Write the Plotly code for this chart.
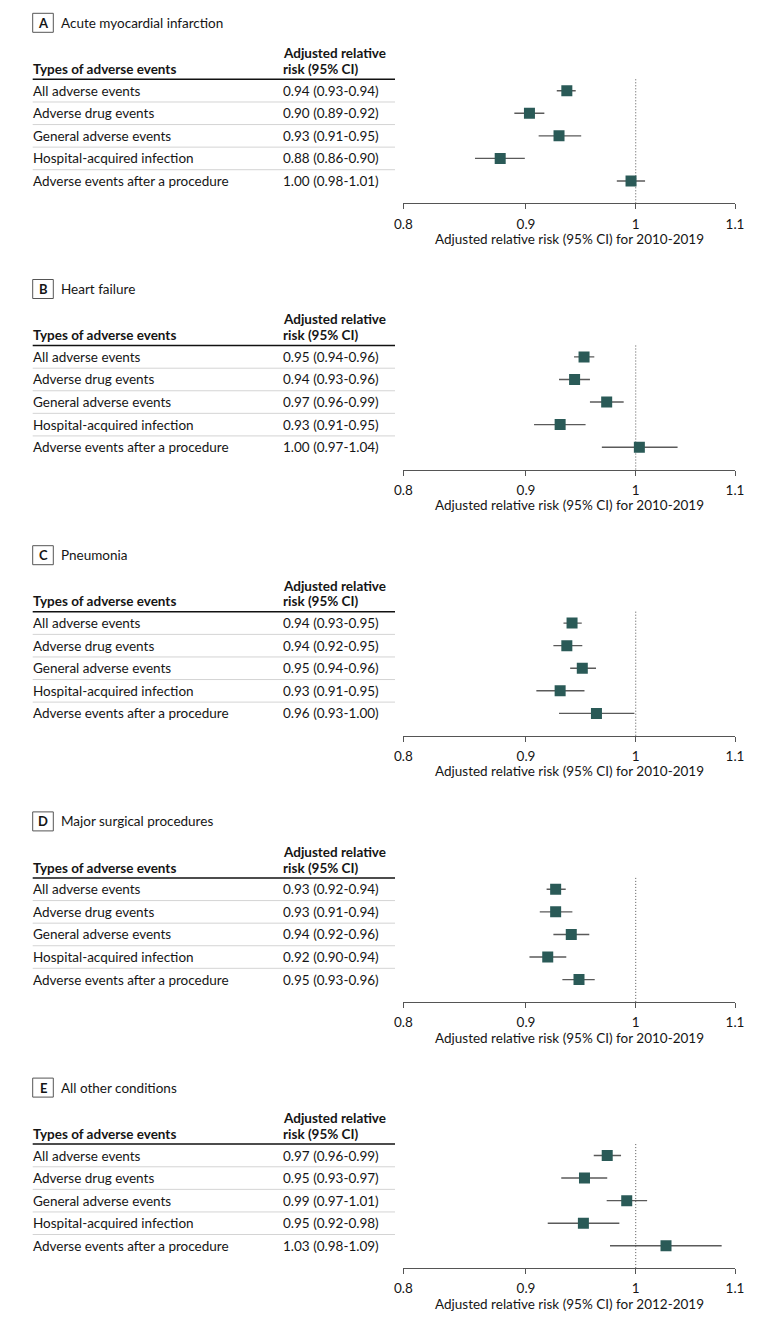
import math
import plotly.graph_objects as go

W, H = 780, 1324

panel_letters = ["A", "B", "C", "D", "E"]
panel_titles = ["Acute myocardial infarction", "Heart failure", "Pneumonia",
                "Major surgical procedures", "All other conditions"]
periods = ["2010-2019", "2010-2019", "2010-2019", "2010-2019", "2012-2019"]

event_types = ["All adverse events", "Adverse drug events", "General adverse events",
               "Hospital-acquired infection", "Adverse events after a procedure"]

# point estimates
est_A = [0.936, 0.903, 0.929, 0.878, 0.9955]
est_B = [0.9516, 0.943, 0.9725, 0.930, 1.0035]
est_C = [0.9407, 0.936, 0.950, 0.930, 0.963]
est_D = [0.926, 0.926, 0.940, 0.919, 0.947]
est_E = [0.973, 0.952, 0.9914, 0.951, 1.0295]

lo_A = [0.927, 0.890, 0.911, 0.857, 0.982]
lo_B = [0.9425, 0.929, 0.957, 0.907, 0.968]
lo_C = [0.933, 0.924, 0.939, 0.909, 0.929]
lo_D = [0.918, 0.912, 0.924, 0.903, 0.932]
lo_E = [0.9605, 0.931, 0.9725, 0.919, 0.9756]

hi_A = [0.944, 0.916, 0.949, 0.899, 1.009]
hi_B = [0.961, 0.957, 0.9885, 0.953, 1.041]
hi_C = [0.9495, 0.950, 0.9626, 0.952, 0.9987]
hi_D = [0.935, 0.941, 0.9564, 0.9355, 0.9614]
hi_E = [0.986, 0.973, 1.011, 0.9844, 1.086]

labels_A = ["0.94 (0.93-0.94)", "0.90 (0.89-0.92)", "0.93 (0.91-0.95)", "0.88 (0.86-0.90)", "1.00 (0.98-1.01)"]
labels_B = ["0.95 (0.94-0.96)", "0.94 (0.93-0.96)", "0.97 (0.96-0.99)", "0.93 (0.91-0.95)", "1.00 (0.97-1.04)"]
labels_C = ["0.94 (0.93-0.95)", "0.94 (0.92-0.95)", "0.95 (0.94-0.96)", "0.93 (0.91-0.95)", "0.96 (0.93-1.00)"]
labels_D = ["0.93 (0.92-0.94)", "0.93 (0.91-0.94)", "0.94 (0.92-0.96)", "0.92 (0.90-0.94)", "0.95 (0.93-0.96)"]
labels_E = ["0.97 (0.96-0.99)", "0.95 (0.93-0.97)", "0.99 (0.97-1.01)", "0.95 (0.92-0.98)", "1.03 (0.98-1.09)"]

tick_vals = [0.8, 0.9, 1.0, 1.1]
tick_text = ["0.8", "0.9", "1", "1.1"]

ests = [est_A, est_B, est_C, est_D, est_E]
los = [lo_A, lo_B, lo_C, lo_D, lo_E]
his = [hi_A, hi_B, hi_C, hi_D, hi_E]
labels = [labels_A, labels_B, labels_C, labels_D, labels_E]

FONT = "Lato"
FS = 13.5
TXT = "#151515"
MARK = "#2a5a57"
ERR = "#5a5a5a"

def py(y):
    return 1 - y / H

def px(x):
    return x / W

PITCH = 266.2
X0, X1 = 403.3, 735.0
PAD = 2  # annotation inner padding

fig = go.Figure()
annotations = []
shapes = []

for k in range(5):
    off = k * PITCH
    sfx = "" if k == 0 else str(k + 1)
    xa, ya = "x" + sfx, "y" + sfx
    n = len(event_types)
    rows = list(range(n))
    fig.add_trace(go.Scatter(
        x=ests[k], y=rows, xaxis=xa, yaxis=ya, mode="markers",
        marker=dict(symbol="square", size=11, color=MARK, line=dict(width=0)),
        error_x=dict(type="data", symmetric=False,
                     array=[h - e for h, e in zip(his[k], ests[k])],
                     arrayminus=[e - l for e, l in zip(ests[k], los[k])],
                     color=ERR, thickness=1.4, width=0),
        showlegend=False, hoverinfo="skip"))

    fig.update_layout(**{
        "xaxis" + sfx: dict(
            type="log", range=[math.log10(0.8), math.log10(1.1)],
            domain=[px(X0), px(X1)], anchor=ya, automargin=False,
            showline=True, linecolor="#555555", linewidth=1,
            ticks="outside", ticklen=5, tickcolor="#555555", tickwidth=1,
            ticklabelstandoff=3,
            tickvals=tick_vals, ticktext=tick_text,
            tickfont=dict(family=FONT, size=FS, color=TXT),
            showgrid=False, zeroline=False, fixedrange=True),
        "yaxis" + sfx: dict(
            range=[4.988, -0.505], domain=[py(203.3 + off), py(79.3 + off)],
            anchor=xa, visible=False, automargin=False,
            showgrid=False, zeroline=False, fixedrange=True),
    })

    # dotted reference line at 1
    shapes.append(dict(type="line", xref=xa, yref=ya + " domain", x0=1, x1=1, y0=0, y1=1,
                       line=dict(color="#555555", width=1, dash="1px,2px"), layer="below"))

    # title box and letter
    shapes.append(dict(type="rect", xref="paper", yref="paper",
                       x0=px(32.7), x1=px(53.3), y0=py(32.3 + off), y1=py(13.3 + off),
                       line=dict(color="#555555", width=1)))
    annotations.append(dict(text="<b>" + panel_letters[k] + "</b>", x=px(43), y=py(22.8 + off),
                            xref="paper", yref="paper", xanchor="center", yanchor="middle",
                            showarrow=False, font=dict(family=FONT, size=13, color=TXT)))
    annotations.append(dict(text=panel_titles[k], x=px(60.7 - PAD), y=py(22.7 + off),
                            xref="paper", yref="paper", xanchor="left", yanchor="middle",
                            showarrow=False, font=dict(family=FONT, size=FS, color=TXT)))

    # table header
    annotations.append(dict(text="<b>Types of adverse events</b>", x=px(33 - PAD), y=py(69 + off),
                            xref="paper", yref="paper", xanchor="left", yanchor="middle",
                            showarrow=False, font=dict(family=FONT, size=FS, color=TXT)))
    annotations.append(dict(text="<b>Adjusted relative</b>", x=px(283.3 - PAD), y=py(53.3 + off),
                            xref="paper", yref="paper", xanchor="left", yanchor="middle",
                            showarrow=False, font=dict(family=FONT, size=FS, color=TXT)))
    annotations.append(dict(text="<b>risk (95% CI)</b>", x=px(283.3 - PAD), y=py(69 + off),
                            xref="paper", yref="paper", xanchor="left", yanchor="middle",
                            showarrow=False, font=dict(family=FONT, size=FS, color=TXT)))
    shapes.append(dict(type="line", xref="paper", yref="paper",
                       x0=px(32.7), x1=px(395), y0=py(79.3 + off), y1=py(79.3 + off),
                       line=dict(color="#111111", width=1.5)))

    for i in range(n):
        annotations.append(dict(text=event_types[i], x=px(33 - PAD), y=i, xref="paper", yref=ya,
                                xanchor="left", yanchor="middle", showarrow=False,
                                font=dict(family=FONT, size=FS, color=TXT)))
        annotations.append(dict(text=labels[k][i], x=px(283.3 - PAD), y=i, xref="paper", yref=ya,
                                xanchor="left", yanchor="middle", showarrow=False,
                                font=dict(family=FONT, size=FS, color=TXT)))
        if i < n - 1:
            shapes.append(dict(type="line", xref="paper", yref=ya,
                               x0=px(32.7), x1=px(395), y0=i + 0.5, y1=i + 0.5,
                               line=dict(color="#d4d4d4", width=1)))

    annotations.append(dict(text="Adjusted relative risk (95% CI) for " + periods[k],
                            x=px((X0 + X1) / 2), y=py(239 + off), xref="paper", yref="paper",
                            xanchor="center", yanchor="middle", showarrow=False,
                            font=dict(family=FONT, size=FS, color=TXT)))

fig.update_layout(
    width=W, height=H, margin=dict(l=0, r=0, t=0, b=0, pad=0, autoexpand=False),
    paper_bgcolor="white", plot_bgcolor="white",
    annotations=annotations, shapes=shapes,
    font=dict(family=FONT, size=FS, color=TXT),
)

fig.write_html("out.html", config={"displayModeBar": False},
               post_script="document.body.style.margin='0';document.body.style.overflow='hidden';")
